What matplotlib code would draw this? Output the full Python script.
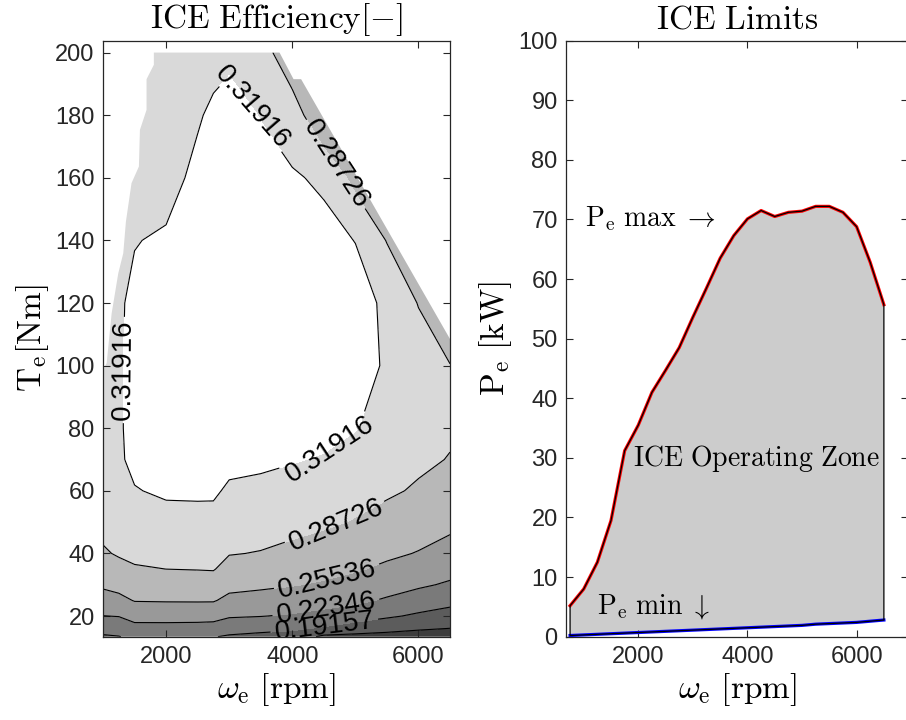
import numpy as np
import matplotlib
matplotlib.use("Agg")
import matplotlib.pyplot as plt
from matplotlib.patches import Polygon

plt.rcParams["font.family"] = ["Liberation Sans", "DejaVu Sans"]
plt.rcParams["mathtext.fontset"] = "cm"
plt.rcParams["axes.edgecolor"] = "#262626"
plt.rcParams["axes.linewidth"] = 0.9
plt.rcParams["xtick.color"] = "#262626"
plt.rcParams["ytick.color"] = "#262626"

# --- ICE efficiency map (speed [rpm] x torque [Nm]) ---
speed = [1000, 1250, 1500, 2000, 2500, 2750, 3000, 3500, 4000, 4500, 5000, 5500, 6000, 6500]
torque = [13.4, 16, 20, 25, 30, 35, 40, 50, 60, 70, 80, 100, 120, 140, 160, 180, 200]
eff = [
    [0.188, 0.1906, 0.198, 0.198, 0.196, 0.193, 0.188, 0.1835, 0.180, 0.153, 0.1507, 0.1493, 0.1471, 0.1463],
    [0.202, 0.204, 0.2135, 0.2135, 0.2125, 0.2115, 0.2036, 0.1997, 0.1959, 0.1876, 0.1766, 0.1686, 0.1627, 0.1592],
    [0.223, 0.2244, 0.2343, 0.2346, 0.2346, 0.2336, 0.2265, 0.2243, 0.2204, 0.2143, 0.2061, 0.1959, 0.1868, 0.1791],
    [0.243, 0.2475, 0.2568, 0.2575, 0.2577, 0.2576, 0.2481, 0.2442, 0.2398, 0.2353, 0.2296, 0.2201, 0.2095, 0.2010],
    [0.260, 0.2647, 0.2709, 0.2724, 0.2728, 0.2732, 0.2639, 0.2609, 0.2570, 0.2521, 0.2448, 0.2358, 0.2279, 0.2197],
    [0.272, 0.2788, 0.2850, 0.2873, 0.2882, 0.2889, 0.2769, 0.2735, 0.2687, 0.2636, 0.2581, 0.2500, 0.2410, 0.2331],
    [0.284, 0.290, 0.2926, 0.2945, 0.2955, 0.2960, 0.2886, 0.2860, 0.2803, 0.2739, 0.2672, 0.2605, 0.2540, 0.2451],
    [0.296, 0.300, 0.305, 0.309, 0.3095, 0.310, 0.3016, 0.2995, 0.2961, 0.2917, 0.2854, 0.2768, 0.2693, 0.2622],
    [0.305, 0.309, 0.3176, 0.3235, 0.324, 0.3235, 0.3146, 0.3123, 0.3086, 0.3042, 0.2976, 0.2915, 0.2839, 0.2741],
    [0.309, 0.315, 0.326, 0.332, 0.333, 0.333, 0.3276, 0.3248, 0.3210, 0.3167, 0.3090, 0.302, 0.2925, 0.2861],
    [0.311, 0.316, 0.327, 0.336, 0.338, 0.339, 0.334, 0.331, 0.327, 0.329, 0.3204, 0.3095, 0.300, 0.291],
    [0.313, 0.316, 0.327, 0.338, 0.341, 0.343, 0.340, 0.337, 0.333, 0.333, 0.330, 0.316, 0.304, 0.2876],
    [0.312, 0.315, 0.326, 0.334, 0.340, 0.343, 0.342, 0.338, 0.334, 0.333, 0.330, 0.314, 0.2859, 0.276],
    [0.309, 0.312, 0.3178, 0.3235, 0.336, 0.340, 0.340, 0.335, 0.330, 0.327, 0.3186, 0.2859, 0.271, 0.265],
    [0.305, 0.306, 0.309, 0.3061, 0.328, 0.334, 0.335, 0.328, 0.322, 0.3149, 0.2769, 0.262, 0.260, 0.255],
    [0.300, 0.301, 0.303, 0.302, 0.3154, 0.326, 0.328, 0.3182, 0.305, 0.2568, 0.245, 0.240, 0.250, 0.245],
    [0.295, 0.296, 0.298, 0.298, 0.308, 0.3065, 0.314, 0.303, 0.262, 0.240, 0.220, 0.220, 0.240, 0.235],
]

# upper torque limit of the map
lim_speed = [1000, 1058, 1137, 1242, 1321, 1363, 1452, 1569, 1585, 1690, 1690, 1806, 1806,
             3798, 4020, 4140, 6500]
lim_torque = [98.7, 100.8, 116.7, 129.5, 135.9, 146.0, 158.3, 163.6, 175.3, 181.7, 191.5, 196.1, 200.0,
              200.0, 191.5, 191.5, 108.5]

eff_levels = [0.15967, 0.19157, 0.22346, 0.25536, 0.28726, 0.31916]
band_colors = ["#3d3d3d", "#5c5c5c", "#7a7a7a", "#999999", "#b8b8b8", "#d9d9d9", "#ffffff"]
label_pos = [(3250, 181), (4641, 163.6), (1348, 98.6), (4510, 75.7),
             (4720, 47.5), (4560, 31.3), (4535, 22.5), (4510, 16.5)]

# --- ICE power limits ---
w_lim = [750, 1000, 1250, 1500, 1750, 2000, 2250, 2500, 2750, 3000, 3250, 3500,
         3750, 4000, 4250, 4500, 4750, 5000, 5250, 5500, 5750, 6000, 6250, 6500]
p_max = [5.2, 8.0, 12.5, 19.5, 31.2, 35.5, 41.0, 44.7, 48.5, 53.6, 58.5, 63.5,
         67.3, 70.1, 71.5, 70.5, 71.2, 71.4, 72.2, 72.2, 71.2, 68.8, 62.8, 55.7]
p_min = [0.2, 0.3, 0.4, 0.5, 0.6, 0.7, 0.8, 0.9, 1.0, 1.1, 1.2, 1.3,
         1.4, 1.5, 1.6, 1.7, 1.8, 1.9, 2.1, 2.2, 2.3, 2.4, 2.6, 2.8]

fig = plt.figure(figsize=(9.06, 7.2), dpi=100)
ax1 = fig.add_axes([0.1137, 0.1157, 0.383, 0.8278])
ax2 = fig.add_axes([0.6247, 0.1157, 0.378, 0.8278])

# efficiency map
S, T = np.meshgrid(speed, torque)
E = np.array(eff)
cf = ax1.contourf(S, T, E, levels=[0.10] + eff_levels + [0.40], colors=band_colors)
cl_low = ax1.contour(S, T, E, levels=eff_levels[:1], colors="k", linewidths=0.8)
cl = ax1.contour(S, T, E, levels=eff_levels[1:], colors="k", linewidths=0.8)
ax1.clabel(cl, manual=label_pos, fmt="%.5g", fontsize=20, inline=True, inline_spacing=4)

domain = Polygon([(speed[0], torque[0]), (speed[-1], torque[0])]
                 + list(zip(lim_speed[::-1], lim_torque[::-1])),
                 closed=True, transform=ax1.transData)
for cs in (cf, cl_low, cl):
    cs.set_clip_path(domain)

ax1.set_xlim(1000, 6500)
ax1.set_ylim(13.4, 203.8)
ax1.set_xticks([2000, 4000, 6000])
ax1.set_yticks(range(20, 201, 20))
ax1.set_title(r"$\mathrm{ICE\ Efficiency[-]}$", fontsize=24, pad=9)
ax1.set_xlabel(r"$\omega_\mathrm{e}\ \mathrm{[rpm]}$", fontsize=24, labelpad=2)
ax1.set_ylabel(r"$\mathrm{T_e[Nm]}$", fontsize=24, labelpad=3)

# operating zone between the power limits
ax2.fill(w_lim + w_lim[::-1], p_max + p_min[::-1], facecolor="#cccccc", edgecolor="none", zorder=1)
ax2.plot(w_lim, p_max, color="red", lw=2.3, zorder=2)
ax2.plot(w_lim, p_min, color="blue", lw=2.3, zorder=2)
ax2.fill(w_lim + w_lim[::-1], p_max + p_min[::-1], facecolor="none", edgecolor="k", lw=0.9, zorder=3)
ax2.text(1024, 68.9, r"$\mathrm{P_e\ max}\;\rightarrow$", fontsize=20, va="baseline")
ax2.text(1908, 28.7, r"$\mathrm{ICE\ Operating\ Zone}$", fontsize=20, va="baseline")
ax2.text(1238, 3.9, r"$\mathrm{P_e\ min\ }\downarrow$", fontsize=20, va="baseline")

ax2.set_xlim(675, 6950)
ax2.set_ylim(0, 100)
ax2.set_xticks([2000, 4000, 6000])
ax2.set_yticks(range(0, 101, 10))
ax2.set_title(r"$\mathrm{ICE\ Limits}$", fontsize=24, pad=9)
ax2.set_xlabel(r"$\omega_\mathrm{e}\ \mathrm{[rpm]}$", fontsize=24, labelpad=2)
ax2.set_ylabel(r"$\mathrm{P_e\ [kW]}$", fontsize=24, labelpad=3)

for ax in (ax1, ax2):
    ax.tick_params(direction="in", length=5, width=0.8, top=True, right=True, labelsize=17)
    ax.tick_params(axis="x", pad=7)
    ax.tick_params(axis="y", pad=6)

fig.savefig("out.png", dpi=100)
